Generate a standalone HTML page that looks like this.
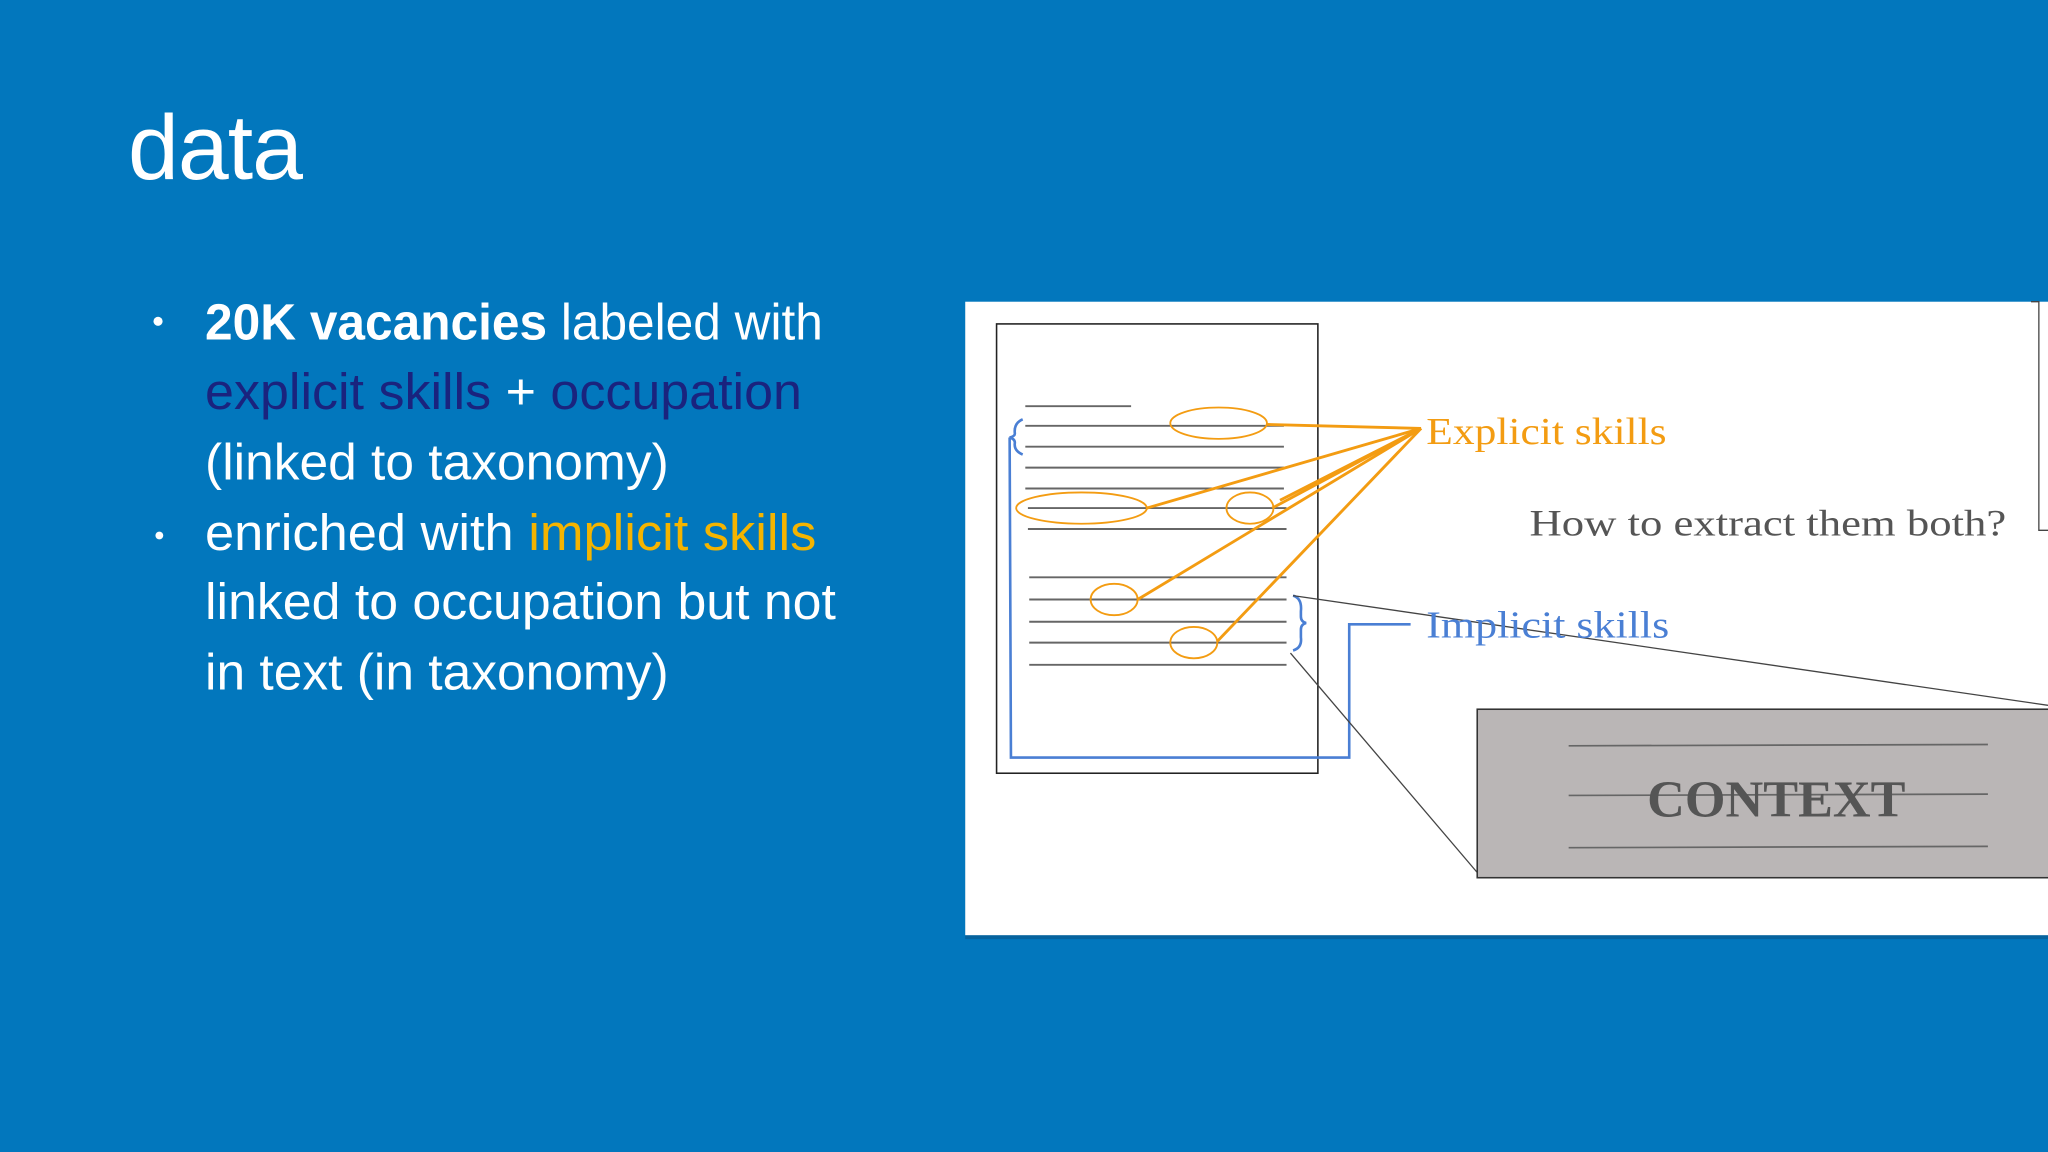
<!DOCTYPE html>
<html><head><meta charset="utf-8"><style>
html,body{margin:0;padding:0;width:2048px;height:1152px;overflow:hidden;background:#0277bd}
svg{display:block}
</style></head><body>
<svg width="2048" height="1152" viewBox="0 0 1568 882" xmlns="http://www.w3.org/2000/svg">
<rect width="1568" height="882" fill="#0277bd"/>
<text x="98" y="137" font-family="Liberation Sans, sans-serif" font-size="70" fill="#fff" textLength="134">data</text>
<g font-family="Liberation Sans, sans-serif" font-size="39" fill="#fff">
<circle cx="121" cy="246" r="3.5" fill="#fff"/>
<circle cx="122" cy="410" r="3" fill="#fff"/>
<text x="157" y="260" textLength="473" lengthAdjust="spacingAndGlyphs"><tspan font-weight="bold">20K vacancies</tspan> labeled with</text>
<text x="157" y="313" textLength="457" lengthAdjust="spacingAndGlyphs"><tspan fill="#1a237e">explicit skills</tspan> + <tspan fill="#1a237e">occupation</tspan></text>
<text x="157" y="367" textLength="355" lengthAdjust="spacingAndGlyphs">(linked to taxonomy)</text>
<text x="157" y="421" textLength="468" lengthAdjust="spacingAndGlyphs">enriched with <tspan fill="#f4b400">implicit skills</tspan></text>
<text x="157" y="474" textLength="483" lengthAdjust="spacingAndGlyphs">linked to occupation but not</text>
<text x="157" y="528" textLength="355" lengthAdjust="spacingAndGlyphs">in text (in taxonomy)</text>
</g>
<rect x="739" y="233" width="829" height="486" fill="#0a4f80" opacity="0.5"/>
<rect x="739" y="231" width="829" height="485" fill="#fff"/>
<rect x="763" y="248" width="246" height="344" fill="none" stroke="#222" stroke-width="1.2"/>
<g stroke="#666" stroke-width="1.5">
<line x1="785" y1="311" x2="866" y2="311"/>
<line x1="785" y1="326" x2="983" y2="326"/><line x1="785" y1="342" x2="983" y2="342"/>
<line x1="785" y1="358" x2="983" y2="358"/><line x1="785" y1="374" x2="983" y2="374"/>
<line x1="787" y1="389" x2="985" y2="389"/><line x1="787" y1="405" x2="985" y2="405"/>
<line x1="788" y1="442" x2="985" y2="442"/><line x1="788" y1="459" x2="985" y2="459"/>
<line x1="788" y1="476" x2="985" y2="476"/><line x1="788" y1="492" x2="985" y2="492"/>
<line x1="788" y1="509" x2="985" y2="509"/>
</g>
<g stroke="#4a7fd4" stroke-width="2" fill="none">
<path d="M783,321 Q776,324 777,332 Q777,334 773,335 Q777,336 777,339 Q776,345 783,348"/>
<polyline points="773,335 774,580 1033,580 1033,478 1080,478"/>
<path d="M990,456 Q997,458 996,468 L996,472 Q996,476 1000,477 Q996,478 996,482 L996,488 Q997,496 990,498"/>
</g>
<g stroke="#444" stroke-width="1" fill="none">
<line x1="990" y1="456" x2="1568" y2="540"/>
<line x1="988" y1="500" x2="1131" y2="668"/>
<polyline points="1555,231 1561,231 1561,406 1568,406"/>
</g>
<g stroke="#f39c12" stroke-width="1.4" fill="none">
<ellipse cx="933" cy="324" rx="37" ry="12"/>
<ellipse cx="828" cy="389" rx="50" ry="12"/>
<ellipse cx="957" cy="389" rx="18" ry="12"/>
<ellipse cx="853" cy="459" rx="18" ry="12"/>
<ellipse cx="914" cy="492" rx="18" ry="12"/>
</g>
<g stroke="#f39c12" stroke-width="2.2" fill="none">
<line x1="970" y1="325" x2="1088" y2="328"/>
<line x1="878" y1="389" x2="1088" y2="328"/>
<line x1="974" y1="389" x2="1088" y2="328"/>
<line x1="980" y1="383" x2="1088" y2="328"/>
<line x1="871" y1="459" x2="1088" y2="328"/>
<line x1="932" y1="491" x2="1088" y2="328"/>
</g>
<text x="1092" y="340" font-family="Liberation Serif, serif" font-size="29" fill="#f39c12" textLength="184" lengthAdjust="spacingAndGlyphs">Explicit skills</text>
<text x="1092" y="488" font-family="Liberation Serif, serif" font-size="29" fill="#4a7fd4" textLength="186" lengthAdjust="spacingAndGlyphs">Implicit skills</text>
<text x="1171" y="410" font-family="Liberation Serif, serif" font-size="28" fill="#555" textLength="365" lengthAdjust="spacingAndGlyphs">How to extract them both?</text>
<rect x="1131" y="543" width="445" height="129" fill="#bab6b6" stroke="#333" stroke-width="1.2"/>
<g stroke="#666" stroke-width="1.3">
<line x1="1201" y1="571" x2="1522" y2="570"/>
<line x1="1201" y1="609" x2="1522" y2="608"/>
<line x1="1201" y1="649" x2="1522" y2="648"/>
</g>
<text x="1360" y="625" text-anchor="middle" font-family="Liberation Serif, serif" font-weight="bold" font-size="40" fill="#555">CONTEXT</text>
</svg>
</body></html>
